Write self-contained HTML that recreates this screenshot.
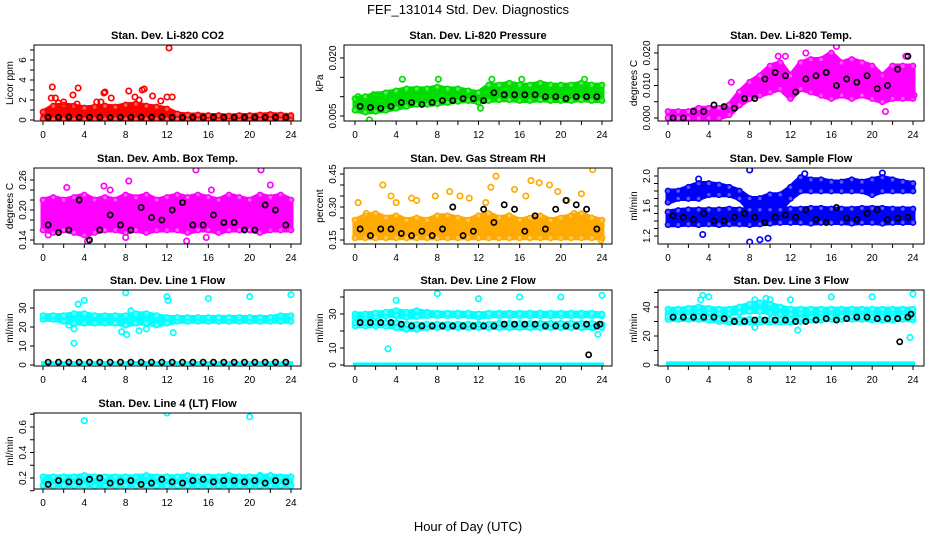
<!DOCTYPE html>
<html><head><meta charset="utf-8"><style>
body{margin:0;background:#fff;}
svg{display:block;font-family:"Liberation Sans",sans-serif;}
</style></head><body>
<svg id="chart" width="936" height="540" viewBox="0 0 936 540">
<text x="468" y="14" text-anchor="middle" font-size="13">FEF_131014  Std. Dev. Diagnostics</text>
<text x="468" y="531" text-anchor="middle" font-size="13">Hour of Day (UTC)</text>
</svg>
<script>
// ---- data ----
const xTickLabels = ["0","4","8","12","16","20","24"];
const co2Lo = [0.1,0.1,0.1,0.1,0.1,0.1,0.1,0.1,0.1,0.1,0.1,0.1,0.1,0.1,0.1,0.1,0.1,0.1,0.1,0.1,0.1,0.1,0.1,0.1,0.1];
const co2Hi = [0.8,1.4,1.5,1.4,1.2,1.3,1.4,1.3,1.5,1.6,1.4,1.3,1.1,0.6,0.5,0.5,0.45,0.45,0.4,0.45,0.45,0.5,0.55,0.5,0.45];
const co2OutX = [0.9,0.8,1.2,2.9,3.4,5.9,6.0,6.6,8.3,8.9,9.6,9.8,10.6,11.4,12.2,12.0,12.5,5.2,5.6,1.5,3.3,9.3,2.0];
const co2OutY = [3.3,2.2,2.2,2.5,3.2,2.7,2.8,2.2,2.9,2.3,3.0,3.1,2.4,1.9,7.2,2.3,2.3,1.8,1.8,1.7,1.6,2.0,1.8];
const co2Black = [0.28,0.27,0.3,0.26,0.28,0.27,0.26,0.28,0.27,0.29,0.28,0.3,0.26,0.25,0.26,0.25,0.27,0.26,0.25,0.26,0.25,0.26,0.27,0.26];

const presLo = [0.0065,0.006,0.0062,0.0065,0.007,0.0075,0.008,0.008,0.0082,0.0085,0.0088,0.009,0.0085,0.009,0.0092,0.0092,0.009,0.009,0.0092,0.009,0.009,0.009,0.0092,0.009,0.009];
const presHi = [0.0095,0.010,0.0105,0.011,0.0115,0.012,0.012,0.012,0.0125,0.012,0.012,0.0115,0.011,0.013,0.013,0.0135,0.013,0.013,0.0135,0.013,0.013,0.013,0.0135,0.013,0.013];
const presOutX = [8,16,24,8.1,4.6,13.3,16.2,22.3,1.4,0.3,1.8,2.2,12.2];
const presOutY = [0.025,0.025,0.025,0.0145,0.0145,0.0145,0.0145,0.0145,0.004,0.010,0.0105,0.0105,0.007];
const presBlack = [0.0075,0.0072,0.007,0.0075,0.0085,0.0085,0.008,0.0085,0.009,0.009,0.0095,0.0095,0.009,0.011,0.0105,0.0105,0.0105,0.0105,0.010,0.010,0.0095,0.010,0.010,0.010];

const tempLo = [0,0,0,0,0,0,0.001,0.004,0.006,0.007,0.008,0.009,0.006,0.009,0.008,0.007,0.006,0.007,0.006,0.007,0.006,0.005,0.006,0.006,0.006];
const tempHi = [0.002,0.002,0.002,0.003,0.003,0.003,0.004,0.008,0.011,0.013,0.016,0.017,0.013,0.017,0.018,0.018,0.020,0.017,0.018,0.017,0.016,0.013,0.016,0.016,0.016];
const tempOutX = [6.2,10.8,11.5,13.5,16.5,21.3,23.3,24.1];
const tempOutY = [0.011,0.019,0.019,0.020,0.022,0.002,0.019,0.007];
const tempBlack = [0,0,0.002,0.002,0.004,0.0035,0.003,0.006,0.006,0.012,0.014,0.013,0.008,0.012,0.013,0.014,0.010,0.012,0.011,0.013,0.009,0.010,0.015,0.019];

const ambLo = [0.16,0.155,0.16,0.155,0.15,0.155,0.16,0.16,0.155,0.16,0.155,0.16,0.16,0.16,0.155,0.16,0.16,0.155,0.16,0.16,0.16,0.155,0.16,0.16,0.16];
const ambHi = [0.22,0.225,0.22,0.225,0.23,0.22,0.225,0.22,0.23,0.225,0.23,0.22,0.225,0.23,0.225,0.23,0.225,0.22,0.23,0.225,0.22,0.23,0.225,0.23,0.22];
const ambOutX = [14.8,21.1,8.3,2.3,5.9,22.0,6.5,16.3,0.5,13.9,4.3,8.0,15.8];
const ambOutY = [0.28,0.28,0.258,0.245,0.248,0.25,0.24,0.24,0.15,0.138,0.138,0.145,0.145];
const ambBlack = [0.17,0.155,0.16,0.22,0.14,0.16,0.19,0.17,0.16,0.205,0.185,0.18,0.2,0.215,0.17,0.17,0.19,0.175,0.175,0.16,0.16,0.21,0.2,0.17];

const rhLo = [0.16,0.16,0.16,0.16,0.16,0.16,0.16,0.16,0.16,0.16,0.16,0.16,0.16,0.16,0.16,0.16,0.16,0.16,0.16,0.16,0.16,0.16,0.16,0.16,0.16];
const rhHi = [0.24,0.26,0.27,0.25,0.26,0.24,0.25,0.24,0.26,0.26,0.25,0.24,0.26,0.27,0.25,0.26,0.24,0.25,0.26,0.24,0.25,0.26,0.27,0.25,0.24];
const rhOutX = [0.3,2.7,3.5,5.5,7.8,9.2,11.1,12.7,13.7,13.2,15.5,16.6,17.1,17.9,18.9,19.7,22.0,23.1,23.9,6.0,10.2,20.6,4.0,21.3,1.1];
const rhOutY = [0.32,0.40,0.35,0.34,0.35,0.37,0.34,0.32,0.44,0.39,0.38,0.35,0.42,0.41,0.40,0.37,0.36,0.47,0.15,0.33,0.35,0.33,0.32,0.27,0.27];
const rhBlack = [0.2,0.17,0.2,0.2,0.18,0.17,0.19,0.17,0.2,0.3,0.17,0.19,0.29,0.23,0.31,0.29,0.19,0.26,0.2,0.29,0.33,0.31,0.29,0.2];

const flowLoA = [1.35,1.35,1.36,1.35,1.36,1.35,1.36,1.36,1.35,1.36,1.37,1.38,1.38,1.38,1.37,1.38,1.38,1.38,1.37,1.38,1.38,1.37,1.38,1.38,1.38];
const flowHiA = [1.52,1.54,1.55,1.55,1.55,1.55,1.56,1.55,1.55,1.56,1.56,1.56,1.56,1.56,1.57,1.57,1.56,1.56,1.56,1.57,1.57,1.57,1.56,1.56,1.56];
const flowLoB = [1.65,1.7,1.7,1.7,1.75,1.75,1.75,1.7,1.55,1.55,1.55,1.55,1.7,1.8,1.8,1.8,1.8,1.8,1.8,1.8,1.75,1.8,1.8,1.8,1.8];
const flowHiB = [1.8,1.8,1.85,1.9,1.9,1.88,1.85,1.8,1.7,1.7,1.75,1.75,1.85,1.98,1.95,1.95,1.92,1.92,1.95,1.92,1.95,1.98,1.95,1.92,1.9];
const flowOutX = [8,8,9,9.8,3.4,3.0,13.4,21.0];
const flowOutY = [2.08,1.12,1.15,1.17,1.22,1.96,2.03,2.04];
const flowBlack = [1.47,1.45,1.42,1.5,1.4,1.4,1.45,1.5,1.45,1.38,1.45,1.48,1.45,1.55,1.42,1.38,1.58,1.44,1.42,1.5,1.55,1.42,1.44,1.45];

const l1Lo = [24,24,23,22,22,22,22,22,21,22,22,21,22,23,23,23,23,23,23,23,23,23,23,23,23];
const l1Hi = [26,26,26,27,27,26,26,26,26,27,27,26,25,25,25,25,25,25,25,25,25,25,25,26,26];
const l1OutX = [3.0,3.4,4.0,8,12,12.1,16,20,24,8.1,7.6,9.3,10.0,12.6,3,2.5,8.5];
const l1OutY = [11.5,32,34,38,36,34,35,36,37,16,17.5,18,19,17,19,21,28.5];
const l1Black = [1.5,1.5,1.5,1.5,1.5,1.5,1.5,1.5,1.5,1.5,1.5,1.5,1.5,1.5,1.5,1.5,1.5,1.5,1.5,1.5,1.5,1.5,1.5,1.5];

const l2LoA = [28,28,28.5,29,29,28,28.5,29,29,29,29,29,28,29,29,29,29,29,29,29,29,29,29,29,29];
const l2HiA = [30,30,30.5,31,32,31,32,31,30.5,30.5,30.5,30.5,30,30.5,30.5,30.5,30.5,30.5,30.5,30.5,30.5,30.5,30.5,30.5,30];
const l2LoB = [23,23,23,23,22,21,21,22,22,22,22,22,22,22,22,22,22,22,22,22,22,22,22,22,22];
const l2HiB = [25,25,25,25,25,24,24,24,24,24,24,24,24,24,24.5,24.5,24.5,24.5,24.5,24.5,24.5,24.5,24.5,24.5,24];
const l2OutX = [3.2,4,8,12,16,20,24,23.6,23.2];
const l2OutY = [9.5,38,42,39,40,40,41,18,22];
const l2Black = [25,25,25,25,24,23,23,23,23,23,23,23,23,23,24,24,24,24,23,23,23,23,24,23];
const l2BlackOutX = [22.7,23.8];
const l2BlackOutY = [6,24];

const l3LoA = [35.5,35.5,36,36,36,35.5,35.5,36,37,37,36,35,35,35.5,35.5,35.5,35.5,35.5,35.5,35.5,35.5,35.5,35.5,35.5,35.5];
const l3HiA = [38.5,38.5,39,40,39,38.5,38.5,40,42,43,42,40,38.5,38.5,38.5,38.5,38.5,38.5,38.5,38.5,38.5,38.5,38.5,38.5,38.5];
const l3LoB = [31.5,31.5,31.5,31.5,31,30,29.5,29.5,29.5,29.5,29.5,29.5,29.5,30,31,31,31.5,31.5,31.5,31.5,31,31,31,31.5,31];
const l3HiB = [33.5,33.5,33.5,33.5,33,32,31.5,31.5,31.5,31.5,31.5,31.5,31.5,32,33,33,33.5,33.5,33.5,33.5,33,33,33,33.5,33];
const l3OutX = [3.4,4,3.2,8.5,9.6,10,12,16,20,24,12.7,8.5,23.7];
const l3OutY = [48,47,45,45,46,45,45,47,47,49,24,26,19];
const l3Black = [33,33,33,33,33,32,30,30,31,31,31,31,30,30,31,32,31,32,33,33,32,32,32,33];
const l3BlackOutX = [22.7,23.8];
const l3BlackOutY = [16,35];

const l4Lo = [0.14,0.14,0.14,0.14,0.14,0.14,0.14,0.14,0.14,0.14,0.14,0.14,0.14,0.14,0.14,0.14,0.14,0.14,0.14,0.14,0.14,0.14,0.14,0.14,0.14];
const l4Hi = [0.21,0.21,0.21,0.21,0.22,0.21,0.21,0.21,0.21,0.21,0.22,0.21,0.21,0.21,0.22,0.21,0.21,0.21,0.22,0.21,0.21,0.21,0.22,0.21,0.21];
const l4OutX = [4,12,20,21];
const l4OutY = [0.65,0.71,0.68,0.22];
const l4Black = [0.15,0.18,0.17,0.17,0.19,0.2,0.16,0.17,0.18,0.15,0.16,0.19,0.17,0.16,0.18,0.19,0.17,0.18,0.18,0.17,0.18,0.16,0.18,0.17];

// ---- layout ----
const NS = "http://www.w3.org/2000/svg";
const svg = document.getElementById('chart');
const cols = [{l:34,r:301,x0:43,x24:291},{l:344,r:612,x0:355,x24:602},{l:658,r:924,x0:668,x24:913}];
const rows = [{t:45,b:121},{t:168,b:244},{t:290,b:366},{t:413,b:489}];

const panels = [
 {name:"co2",title:"Stan. Dev. Li-820 CO2",ylab:"Licor ppm",c:0,r:0,ym:[0,120,6,60],tk:[0,7,1],lab:[0,2,4,6],dec:0,color:"#ff0000",bands:[[co2Lo,co2Hi]],ox:co2OutX,oy:co2OutY,black:co2Black},
 {name:"pressure",title:"Stan. Dev. Li-820 Pressure",ylab:"kPa",c:1,r:0,ym:[0.005,116,0.020,58],tk:[0.005,0.020,0.005],lab:[0.005,0.020],dec:3,color:"#00dd00",bands:[[presLo,presHi]],ox:presOutX,oy:presOutY,black:presBlack},
 {name:"temp",title:"Stan. Dev. Li-820 Temp.",ylab:"degrees C",c:2,r:0,ym:[0,118,0.020,53],tk:[0,0.020,0.005],lab:[0,0.010,0.020],dec:3,color:"#ff00ff",bands:[[tempLo,tempHi]],ox:tempOutX,oy:tempOutY,black:tempBlack},
 {name:"amb-box-temp",title:"Stan. Dev. Amb. Box Temp.",ylab:"degrees C",c:0,r:1,ym:[0.14,240,0.26,180],tk:[0.14,0.26,0.02],lab:[0.14,0.20,0.26],dec:2,color:"#ff00ff",bands:[[ambLo,ambHi]],ox:ambOutX,oy:ambOutY,black:ambBlack},
 {name:"gas-rh",title:"Stan. Dev. Gas Stream RH",ylab:"percent",c:1,r:1,ym:[0.15,240,0.45,174],tk:[0.15,0.45,0.05],lab:[0.15,0.30,0.45],dec:2,color:"#ffaa00",bands:[[rhLo,rhHi]],ox:rhOutX,oy:rhOutY,black:rhBlack},
 {name:"sample-flow",title:"Stan. Dev. Sample Flow",ylab:"ml/min",c:2,r:1,ym:[1.2,236,2.0,176],tk:[1.2,2.0,0.1],lab:[1.2,1.6,2.0],dec:1,color:"#0000ff",bands:[[flowLoA,flowHiA],[flowLoB,flowHiB]],ox:flowOutX,oy:flowOutY,black:flowBlack},
 {name:"line1-flow",title:"Stan. Dev. Line 1 Flow",ylab:"ml/min",c:0,r:2,ym:[0,365,30,308],tk:[0,30,10],lab:[0,10,20,30],dec:0,color:"#00ffff",bands:[[l1Lo,l1Hi]],ox:l1OutX,oy:l1OutY,black:l1Black,zero:[0.5,2]},
 {name:"line2-flow",title:"Stan. Dev. Line 2 Flow",ylab:"ml/min",c:1,r:2,ym:[0,365,30,314],tk:[0,40,10],lab:[0,10,30],dec:0,color:"#00ffff",bands:[[l2LoA,l2HiA],[l2LoB,l2HiB]],ox:l2OutX,oy:l2OutY,black:l2Black,bx:l2BlackOutX,by:l2BlackOutY,zero:[0,1.5]},
 {name:"line3-flow",title:"Stan. Dev. Line 3 Flow",ylab:"ml/min",c:2,r:2,ym:[0,365,40,307],tk:[0,50,10],lab:[0,20,40],dec:0,color:"#00ffff",bands:[[l3LoA,l3HiA],[l3LoB,l3HiB]],ox:l3OutX,oy:l3OutY,black:l3Black,bx:l3BlackOutX,by:l3BlackOutY,zero:[0,2.5]},
 {name:"line4-flow",title:"Stan. Dev. Line 4 (LT) Flow",ylab:"ml/min",c:0,r:3,ym:[0.2,478,0.6,427],tk:[0.1,0.7,0.1],lab:[0.2,0.4,0.6],dec:1,color:"#00ffff",bands:[[l4Lo,l4Hi]],ox:l4OutX,oy:l4OutY,black:l4Black}
];

function mk(tag, attrs, parent){const e=document.createElementNS(NS,tag);for(const k in attrs)e.setAttribute(k,attrs[k]);(parent||svg).appendChild(e);return e;}

panels.forEach(p=>{
  const C=cols[p.c], R=rows[p.r];
  const g=mk('g',{});
  
  
  const xs=h=>C.x0+(C.x24-C.x0)*h/24;
  const ys=v=>p.ym[1]+(v-p.ym[0])*(p.ym[3]-p.ym[1])/(p.ym[2]-p.ym[0]);
  const clip='clip-'+p.name;
  const cp=mk('clipPath',{id:clip},g); mk('rect',{x:C.l,y:R.t,width:C.r-C.l,height:R.b-R.t},cp);
  const plot=mk('g',{'clip-path':'url(#'+clip+')'},g);
  
  
  // zero band (flow lines)
  if(p.zero){
    const z=mk('rect',{x:xs(0)-2,y:ys(p.zero[1]),width:xs(24)-xs(0)+4,height:ys(p.zero[0])-ys(p.zero[1])+1,fill:p.color},plot);
    
    
  }
  // bands
  p.bands.forEach((b,bi)=>{
    const lo=b[0],hi=b[1];let pts=[];
    hi.forEach((v,i)=>pts.push(xs(i)+','+ys(v)));
    for(let i=lo.length-1;i>=0;i--)pts.push(xs(i)+','+ys(lo[i]));
    const poly=mk('polygon',{points:pts.join(' '),fill:p.color,stroke:p.color,'stroke-width':5,'stroke-linejoin':'round'},plot);
    
    
    [lo,hi].forEach(arr=>arr.forEach((v,i)=>{
      const c=mk('circle',{cx:xs(i),cy:ys(v),r:2.6,fill:'#fff','fill-opacity':0.35,stroke:p.color,'stroke-width':1.6},plot);
      
      
    }));
  });
  p.ox.forEach((h,i)=>{
    const c=mk('circle',{cx:xs(h),cy:ys(p.oy[i]),r:2.7,fill:'none',stroke:p.color,'stroke-width':1.7},plot);
    
    
  });
  p.black.forEach((v,i)=>{
    const c=mk('circle',{cx:xs(i+0.5),cy:ys(v),r:2.6,fill:'none',stroke:'#000','stroke-width':1.7},plot);
    
    
  });
  if(p.bx) p.bx.forEach((h,i)=>{
    const c=mk('circle',{cx:xs(h),cy:ys(p.by[i]),r:2.6,fill:'none',stroke:'#000','stroke-width':1.7},plot);
    
    
  });
  // box
  const box=mk('rect',{x:C.l,y:R.t,width:C.r-C.l,height:R.b-R.t,fill:'none',stroke:'#000','stroke-width':1},g);
  
  
  // title
  const t=mk('text',{x:(C.l+C.r)/2,y:R.t-6,'text-anchor':'middle','font-size':11,'font-weight':'bold'},g);
  t.textContent=p.title;
  
  
  // x axis
  const xa=mk('g',{},g);
  
  
  mk('line',{x1:xs(0),x2:xs(24),y1:R.b,y2:R.b,stroke:'#000'},xa);
  for(let h=0;h<=24;h+=2){mk('line',{x1:xs(h),x2:xs(h),y1:R.b,y2:R.b+4,stroke:'#000'},xa);}
  xTickLabels.forEach((s,i)=>{
    const tl=mk('text',{x:xs(i*4),y:R.b+17,'text-anchor':'middle','font-size':10},xa);
    tl.textContent=s;
    
    
  });
  // y axis
  const ya=mk('g',{},g);
  
  
  mk('line',{x1:C.l,x2:C.l,y1:ys(p.tk[0]),y2:ys(p.tk[1]),stroke:'#000'},ya);
  const n=Math.round((p.tk[1]-p.tk[0])/p.tk[2]);
  for(let k=0;k<=n;k++){const v=p.tk[0]+k*p.tk[2];mk('line',{x1:C.l-4,x2:C.l,y1:ys(v),y2:ys(v),stroke:'#000'},ya);}
  p.lab.forEach(v=>{
    const yy=ys(v), xx=C.l-8;
    const tl=mk('text',{x:xx,y:yy,'text-anchor':'middle','font-size':10,transform:'rotate(-90 '+xx+' '+yy+')'},ya);
    tl.textContent=v.toFixed(p.dec);
    
    
  });
  const ly=(R.t+R.b)/2, lx=C.l-21;
  const yl=mk('text',{x:lx,y:ly,'text-anchor':'middle','font-size':10,transform:'rotate(-90 '+lx+' '+ly+')'},g);
  yl.textContent=p.ylab;
  
  
});
</script>
</body></html>
